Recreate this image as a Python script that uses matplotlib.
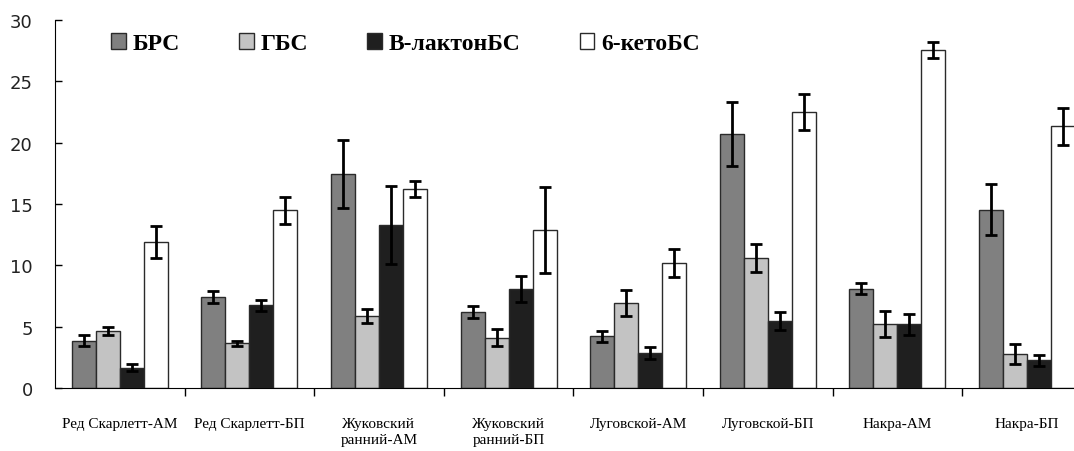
"""
Grouped bar chart: brassinosteroid content by variety and sample type.
"""

import numpy as np
import matplotlib
matplotlib.use("Agg")
import matplotlib.pyplot as plt

# Data
GROUPS = ["Ред Скарлетт-АМ", "Ред Скарлетт-БП", "Жуковский\nранний-АМ",
          "Жуковский\nранний-БП", "Луговской-АМ", "Луговской-БП",
          "Накра-АМ", "Накра-БП"]
SERIES = ["БРС", "ГБС", "В-лактонБС", "6-кетоБС"]

brs = [3.85, 7.4, 17.45, 6.2, 4.2, 20.7, 8.1, 14.55]
gbs = [4.65, 3.65, 5.85, 4.1, 6.9, 10.6, 5.2, 2.75]
lacton = [1.65, 6.75, 13.3, 8.1, 2.85, 5.45, 5.2, 2.25]
keto = [11.9, 14.5, 16.25, 12.9, 10.2, 22.5, 27.55, 21.35]

brs_err = [0.45, 0.5, 2.8, 0.5, 0.45, 2.6, 0.45, 2.05]
gbs_err = [0.35, 0.2, 0.55, 0.7, 1.05, 1.15, 1.05, 0.8]
lacton_err = [0.3, 0.45, 3.15, 1.05, 0.5, 0.75, 0.85, 0.45]
keto_err = [1.3, 1.1, 0.65, 3.5, 1.15, 1.45, 0.65, 1.5]

# Styling
COLORS = ["#808080", "#c3c3c3", "#1f1f1f", "#ffffff"]
BAR_WIDTH = 0.185
SERIF = "Liberation Serif"


def main():
    fig = plt.figure(figsize=(10.74, 4.52), dpi=100)
    ax = fig.add_axes([0.0512, 0.1394, 0.9488, 0.814])

    values = [brs, gbs, lacton, keto]
    errors = [brs_err, gbs_err, lacton_err, keto_err]
    x = np.arange(len(GROUPS))

    for k, (vals, errs) in enumerate(zip(values, errors)):
        offs = (k - 1.5) * BAR_WIDTH
        ax.bar(x + offs, vals, BAR_WIDTH, color=COLORS[k], edgecolor="#2a2a2a",
               linewidth=1.0, label=SERIES[k], zorder=2)
        ax.errorbar(x + offs, vals, yerr=errs, fmt="none", ecolor="black",
                    elinewidth=2.0, capsize=4, capthick=2.0, zorder=3)

    ax.set_xlim(-0.5, 7.363)
    ax.set_ylim(0, 30)
    ax.set_yticks(np.arange(0, 31, 5))

    # Category labels at group centres, tick marks at group boundaries
    ax.set_xticks(x)
    ax.set_xticklabels(GROUPS, fontfamily=SERIF, fontsize=11,
                       linespacing=1.3, va="top")
    ax.tick_params(axis="x", which="major", length=0, pad=21)
    ax.set_xticks(np.arange(0.5, 7.0, 1.0), minor=True)
    ax.tick_params(axis="x", which="minor", length=6, width=1, direction="out")

    ax.tick_params(axis="y", direction="in", length=5, width=1, pad=16,
                   labelsize=13)
    for lbl in ax.get_yticklabels():
        lbl.set_fontfamily("DejaVu Sans")
        lbl.set_color("#222222")

    ax.spines["top"].set_visible(False)
    ax.spines["right"].set_visible(False)

    ax.legend(loc="upper left", bbox_to_anchor=(0.034, 1.022), ncol=4,
              frameon=False, handlelength=0.62, handleheight=0.62,
              handletextpad=0.3, columnspacing=2.5,
              prop={"family": SERIF, "weight": "bold", "size": 17})

    fig.savefig("out.png", dpi=100)
    plt.close(fig)


if __name__ == "__main__":
    main()
